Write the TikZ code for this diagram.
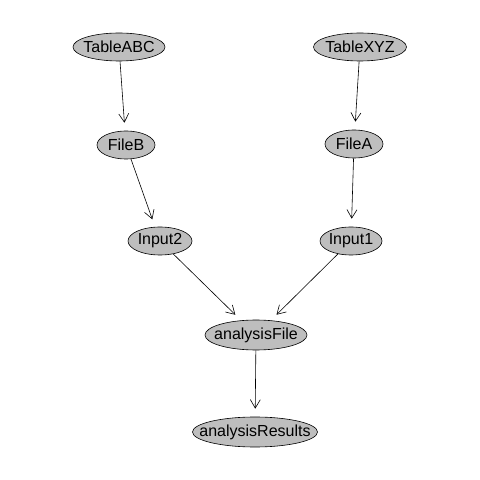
\documentclass[tikz,border=0pt]{standalone}
\usepackage{fontspec}
\setmainfont{Liberation Sans}
\usepackage{xcolor}
\usepackage{tikz}
\usetikzlibrary{shapes.geometric,arrows.meta}

\definecolor{nodegray}{HTML}{BEBEBE}

\begin{document}
\begin{tikzpicture}[x=10pt, y=10pt,
    var/.style={ellipse, draw=black, line width=0.6pt, fill=nodegray,
        inner xsep=-30pt, inner ysep=0pt, minimum height=28pt,
        font=\fontsize{16}{19}\selectfont},
    dep/.style={-{Straight Barb[length=8.5pt, width=10pt]}, line width=0.6pt,
        shorten >=8pt}]
    \useasboundingbox (0,0) rectangle (48,48);

    % Tables
    \node[var, minimum width=92pt] (tableABC) at (11.9,43.3) {TableABC};
    \node[var, minimum width=93pt] (tableXYZ) at (36.0,43.3) {TableXYZ};

    % Files
    \node[var, minimum width=58pt] (fileB) at (12.6,33.5) {FileB};
    \node[var, minimum width=58pt] (fileA) at (35.4,33.6) {FileA};

    % Inputs
    \node[var, minimum width=64pt] (input2) at (16.0,23.9) {Input2};
    \node[var, minimum width=62pt] (input1) at (35.1,23.9) {Input1};

    % Analysis
    \node[var, minimum width=102pt, minimum height=30pt] (analysisFile) at (25.6,14.5) {analysisFile};
    \node[var, minimum width=125pt, minimum height=30pt] (analysisResults) at (25.5,4.8) {analysisResults};

    % Edges
    \draw[dep] (tableABC) -- (fileB);
    \draw[dep] (tableXYZ) -- (fileA);
    \draw[dep] (fileB) -- (input2);
    \draw[dep] (fileA) -- (input1);
    \draw[dep] (input2) -- (analysisFile);
    \draw[dep] (input1) -- (analysisFile);
    \draw[dep] (analysisFile) -- (analysisResults);
\end{tikzpicture}
\end{document}
